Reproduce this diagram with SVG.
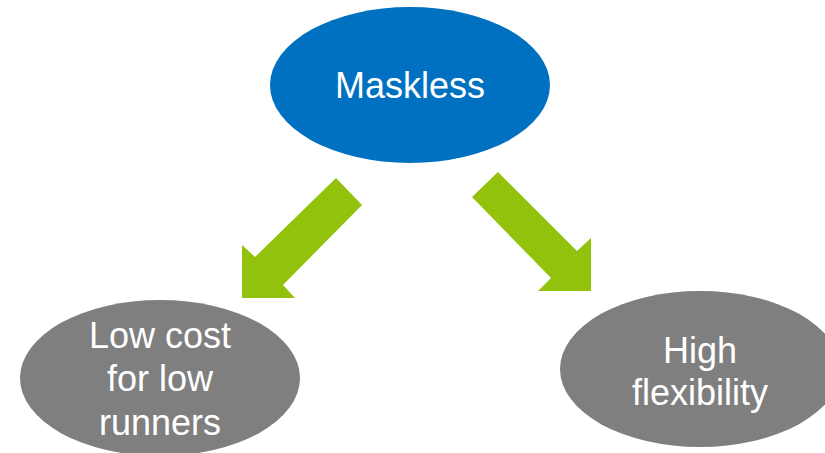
<svg xmlns="http://www.w3.org/2000/svg" width="825" height="453" viewBox="0 0 825 453">
<style>
.lbl{font-family:"Liberation Sans",Arial,sans-serif;font-size:36px;fill:#ffffff;text-anchor:middle}
.arrow{fill:#92C20C}
</style>
<rect width="825" height="453" fill="#ffffff"/>
<g id="connectors">
<polygon class="arrow" points="336,178 362,205 283,285 295,298 242,298 242,245 255,257"/>
<polygon class="arrow" points="498,172 577,251 591,238 591,291 538,291 551,278 472,197"/>
</g>
<g id="maskless">
<ellipse cx="410" cy="85" rx="140" ry="78" fill="#0070C0"/>
<text class="lbl" x="410" y="98">Maskless</text>
</g>
<g id="low-cost">
<ellipse cx="160" cy="378" rx="140" ry="78" fill="#7F7F7F"/>
<text class="lbl" x="160" y="348">Low cost</text>
<text class="lbl" x="160" y="391">for low</text>
<text class="lbl" x="160" y="435">runners</text>
</g>
<g id="high-flex">
<ellipse cx="700" cy="369" rx="140" ry="78" fill="#7F7F7F"/>
<text class="lbl" x="700" y="363">High</text>
<text class="lbl" x="700" y="405">flexibility</text>
</g>
</svg>
